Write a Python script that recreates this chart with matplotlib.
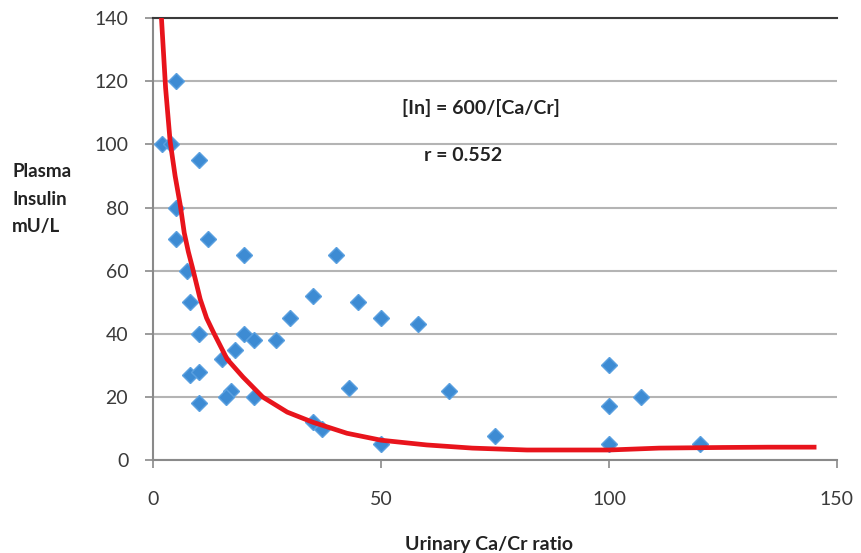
import numpy as np
import matplotlib.pyplot as plt

plt.rcParams['font.family'] = ['Lato', 'DejaVu Sans']

# scatter data
ratio = [5, 2, 4, 10, 5, 5, 12, 20, 40, 7.5, 8, 35, 45, 50, 58, 30,
         10, 20, 22, 27, 18, 15, 8, 10, 43, 17, 16, 10, 22, 35, 37, 50,
         65, 75, 100, 100, 107, 100, 120]
insulin = [120, 100, 100, 95, 80, 70, 70, 65, 65, 60, 50, 52, 50, 45, 43, 45,
           40, 40, 38, 38, 35, 32, 27, 28, 23, 22, 20, 18, 20, 12, 10, 5,
           22, 7.5, 30, 17, 20, 5, 5]

# fitted curve
curve_x = [1.8, 2.7, 3.7, 4.8, 5.9, 6.8, 7.7, 8.6, 10.3, 11.7, 13.2, 16.2, 19.7,
           24, 29.4, 35, 42.5, 50, 60, 70, 82, 100, 111, 125, 135, 145]
curve_y = [140, 118, 101, 90, 81, 72, 66, 61, 51, 45, 40.5, 32, 26.3,
           20, 15.2, 12, 8.5, 6.3, 4.8, 3.8, 3.2, 3.2, 3.8, 4.0, 4.1, 4.1]

fig = plt.figure(figsize=(8.61, 5.53), dpi=100)
ax = fig.add_axes([0.178, 0.168, 0.794, 0.799])

ax.plot(ratio, insulin, linestyle='none', marker='D', ms=8.5,
        color='#3d8bd3', mec='#5aa0e0', mew=1, zorder=3)
ax.plot(curve_x, curve_y, color='#e8141c', lw=3.4, zorder=4)

ax.set_xlim(0, 150)
ax.set_ylim(0, 140)
ax.set_xticks([0, 50, 100, 150])
ax.set_yticks(np.arange(0, 141, 20))
ax.yaxis.grid(True, color='#b4b4b4', lw=1.5)
ax.set_axisbelow(True)

for s in ['left', 'bottom']:
    ax.spines[s].set_color('#8a8a8a')
    ax.spines[s].set_linewidth(1.5)
ax.spines['right'].set_visible(False)
ax.spines['top'].set_color('#3a3a3a')
ax.spines['top'].set_linewidth(1.5)

ax.tick_params(axis='y', direction='out', length=6, width=1.2, color='#8a8a8a',
               pad=12, labelsize=14, labelcolor='#3a3a3a')
ax.tick_params(axis='x', direction='out', length=6, width=1.2, color='#8a8a8a',
               pad=16, labelsize=14, labelcolor='#3a3a3a')

fig.text(0.014, 0.575, 'Plasma\nInsulin\nmU/L', fontsize=13.5, fontweight='bold',
         color='#222222', ha='left', va='bottom', linespacing=1.75)
fig.text(0.568, 0.0, 'Urinary Ca/Cr ratio', fontsize=14, fontweight='bold',
         color='#222222', ha='center', va='bottom')

ax.text(72, 111.5, '[In] = 600/[Ca/Cr]', fontsize=14, fontweight='bold',
        color='#222222', ha='center', va='center')
ax.text(68, 96.6, 'r = 0.552', fontsize=14, fontweight='bold',
        color='#222222', ha='center', va='center')

fig.savefig('out.png', dpi=100)
